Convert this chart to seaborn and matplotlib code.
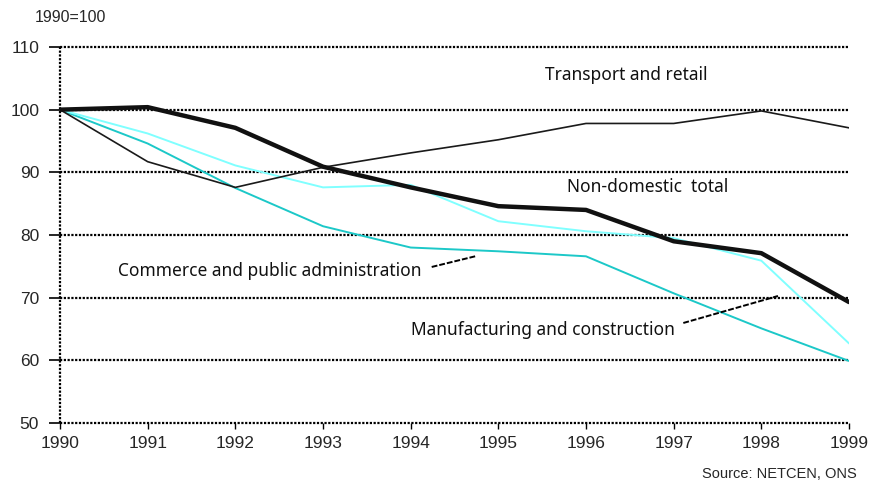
import matplotlib
matplotlib.use("Agg")
import matplotlib.pyplot as plt
import seaborn as sns
import pandas as pd

years = [1990, 1991, 1992, 1993, 1994, 1995, 1996, 1997, 1998, 1999]
non_domestic_total = [100, 100.4, 97.1, 90.9, 87.6, 84.6, 84.0, 79.0, 77.1, 69.3]
transport_retail = [100, 91.7, 87.6, 90.8, 93.1, 95.2, 97.8, 97.8, 99.8, 97.1]
manufacturing_construction = [100, 96.2, 91.1, 87.6, 88.0, 82.2, 80.6, 79.5, 75.9, 62.7]
commerce_public_admin = [100, 94.6, 87.5, 81.4, 78.0, 77.4, 76.6, 70.7, 65.1, 59.9]
y_ticks = [50, 60, 70, 80, 90, 100, 110]

sns.set_style("white")
plt.rcParams["font.family"] = ["Liberation Sans", "DejaVu Sans"]

fig = plt.figure(figsize=(8.91, 4.87), dpi=100)
ax = fig.add_axes([60 / 891, 1 - 423 / 487, (849 - 60) / 891, (423 - 47) / 487])

dot = (0, (1.0, 0.7))
for yv in y_ticks:
    ax.axhline(yv, color="black", lw=1.6, ls=dot, zorder=1, clip_on=False)
ax.axvline(1990, color="black", lw=1.6, ls=dot, zorder=1, clip_on=False)

sns.lineplot(x=years, y=commerce_public_admin, color="#1CC8C8", lw=1.4, ax=ax, zorder=3)
sns.lineplot(x=years, y=manufacturing_construction, color="#80FFFF", lw=1.4, ax=ax, zorder=3)
sns.lineplot(x=years, y=transport_retail, color="#1a1a1a", lw=1.2, ax=ax, zorder=4)
sns.lineplot(x=years, y=non_domestic_total, color="#111111", lw=3.2, ax=ax, zorder=5)

ax.set_xlim(1990, 1999)
ax.set_ylim(50, 110)
ax.set_xticks(years)
ax.set_yticks(y_ticks)
ax.set_xticklabels([str(y) for y in years])
for s in ax.spines.values():
    s.set_visible(False)
ax.tick_params(axis="y", length=8, width=1.2, color="black", direction="out", labelsize=12.5, pad=7, left=True)
ax.tick_params(axis="x", length=4, width=1.0, color="black", direction="out", labelsize=12.5, pad=5, bottom=True)
ax.set_xlabel("")
ax.set_ylabel("")

tfont = dict(fontsize=12.5, family=["Noto Sans", "DejaVu Sans"], color="#111111")
ax.text(1995.53, 105.5, "Transport and retail", ha="left", va="center", **tfont)
ax.text(1995.78, 87.7, "Non-domestic  total", ha="left", va="center", **tfont)
ax.text(1990.66, 74.3, "Commerce and public administration", ha="left", va="center", **tfont)
ax.text(1994.0, 64.8, "Manufacturing and construction", ha="left", va="center", **tfont)

ax.plot([1994.24, 1994.75], [74.9, 76.65], color="black", lw=1.4, ls=(0, (3, 1)), zorder=6)
ax.plot([1997.11, 1998.19], [65.96, 70.27], color="black", lw=1.4, ls=(0, (3, 1)), zorder=6)

fig.text(35 / 891, 1 - 17 / 487, "1990=100", ha="left", va="center", fontsize=11.5)
fig.text(857 / 891, 1 - 474 / 487, "Source: NETCEN, ONS", ha="right", va="center", fontsize=10.5)

fig.savefig("out.png", dpi=100)
